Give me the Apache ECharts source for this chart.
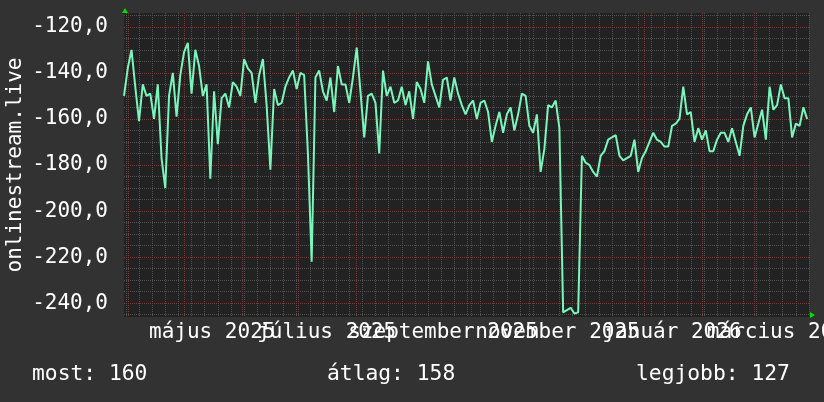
<!DOCTYPE html>
<html>
<head>
<meta charset="utf-8">
<script src="https://cdn.jsdelivr.net/npm/echarts@6/dist/echarts.min.js"></script>
<style>
html,body{margin:0;padding:0;background:#323232;}
#chart{width:824px;height:402px;}
</style>
</head>
<body>
<div id="chart"></div>
<script>
// ---- data ----
const startDate = '2025-03-30';
const endDate = '2026-03-30';
const stepDays = 2;
const signal = [
 -150,-138,-130,-146,-161,-145,-150,-149,-160,-145,
 -177,-190,-150,-140,-159,-141,-131,-127,-149,-130,
 -137,-150,-145,-186,-148,-171,-151,-149,-155,-144,
 -146,-150,-134,-138,-140,-153,-141,-134,-154,-182,
 -147,-154,-153,-146,-142,-139,-147,-140,-141,-175,
 -222,-142,-139,-148,-152,-142,-157,-137,-145,-145,
 -153,-142,-129,-148,-168,-150,-149,-153,-175,-139,
 -150,-146,-153,-152,-146,-154,-148,-160,-144,-147,
 -153,-135,-145,-150,-155,-143,-142,-152,-142,-149,
 -154,-158,-154,-152,-160,-153,-152,-157,-170,-163,
 -157,-166,-158,-155,-165,-158,-149,-150,-163,-166,
 -158,-183,-173,-154,-155,-152,-164,-244,-243,-242,
 -244.5,-244,-176,-179,-180,-183,-185,-176,-174,-169,
 -168,-167,-176,-178,-177,-176,-169,-183,-177,-174,
 -170,-166,-169,-170,-172,-172,-163,-162,-160,-146,
 -158,-157,-170,-164,-169,-165,-174,-174,-169,-166,
 -166,-170,-164,-170,-176,-163,-158,-155,-168,-162,
 -156,-169,-146,-156,-154,-145,-151,-151,-168,-162,
 -163,-155,-160
];
const yTicks = [-240, -220, -200, -180, -160, -140, -120];
const yMin = -246, yMax = -114;
const monthNames = ['január','február','március','április','május','június','július','augusztus','szeptember','október','november','december'];
const xLabelMonths = ['2025-05','2025-07','2025-09','2025-11','2026-01','2026-03'];
const seriesName = 'onlinestream.live';
const summaryLabels = ['most: 160', 'átlag: 158', 'legjobb: 127'];

// ---- build ----
const DAY = 86400000;
const t0 = Date.parse(startDate + 'T00:00:00Z');
const t1 = Date.parse(endDate + 'T00:00:00Z');
const lineData = signal.map((v, i) => [t0 + i * stepDays * DAY, v]);

const labelTimes = xLabelMonths.map(m => Date.parse(m + '-01T00:00:00Z') + 15 * DAY);
const labelsA = labelTimes.filter((t, i) => i % 2 === 0);
const labelsB = labelTimes.filter((t, i) => i % 2 === 1);

const monthLines = [];
{
  const d = new Date(t0);
  let y = d.getUTCFullYear(), m = d.getUTCMonth() + 1;
  while (true) {
    const t = Date.UTC(y, m, 1);
    if (t > t1) break;
    monthLines.push(t);
    m++; if (m > 11) { m = 0; y++; }
  }
}
const weekLines = [];
{
  let t = t0;
  while (new Date(t).getUTCDay() !== 1) t += DAY;
  for (; t <= t1; t += 7 * DAY) if (monthLines.indexOf(t) < 0) weekLines.push(t);
}
const hMinor = [], hMajor = [];
for (let v = -245; v <= -115; v += 5) {
  if (v % 20 === 0) hMajor.push(v); else hMinor.push(v);
}

const minorStyle = { color: '#505050', width: 1, type: [1, 1] };
const majorStyle = { color: '#7a3838', width: 1, type: [1, 1] };
const font = '"DejaVu Sans Mono", monospace';

const monthFmt = v => { const d = new Date(v); return monthNames[d.getUTCMonth()] + ' ' + d.getUTCFullYear(); };
const xLabelStyle = { color: '#ffffff', fontFamily: font, fontSize: 21, margin: 5, showMinLabel: true, showMaxLabel: true, hideOverlap: false, formatter: monthFmt };

const chart = echarts.init(document.getElementById('chart'), null, { renderer: 'canvas' });
chart.setOption({
  backgroundColor: '#323232',
  animation: false,
  grid: { left: 124, right: 15, top: 13, bottom: 85, show: true, backgroundColor: '#222222', borderWidth: 0, containLabel: false, outerBoundsMode: 'none' },
  xAxis: [
    {
      type: 'value', min: t0, max: t1, gridIndex: 0, position: 'bottom', offset: 0,
      axisLine: { show: false },
      axisTick: { show: false, customValues: monthLines },
      splitLine: { show: true, lineStyle: majorStyle },
      axisLabel: Object.assign({ customValues: labelsA }, xLabelStyle),
      z: 2
    },
    {
      type: 'value', min: t0, max: t1, gridIndex: 0, position: 'bottom', offset: 0,
      axisLine: { show: false },
      axisTick: { show: false },
      splitLine: { show: false },
      axisLabel: Object.assign({ customValues: labelsB }, xLabelStyle),
      z: 2
    },
    {
      type: 'value', min: t0, max: t1, gridIndex: 0, position: 'bottom', offset: 0,
      axisLine: { show: false },
      axisTick: { show: false, customValues: weekLines },
      splitLine: { show: true, lineStyle: minorStyle },
      axisLabel: { show: false },
      z: 1
    }
  ],
  yAxis: [
    {
      type: 'value', min: yMin, max: yMax, gridIndex: 0, position: 'left', offset: 0,
      name: seriesName, nameLocation: 'middle', nameGap: 98, nameMoveOverlap: false,
      nameTextStyle: { color: '#ffffff', fontFamily: font, fontSize: 21 },
      axisLine: { show: false },
      axisTick: { show: false, customValues: hMajor },
      splitLine: { show: true, lineStyle: majorStyle },
      axisLabel: {
        customValues: yTicks, showMinLabel: true, showMaxLabel: true,
        color: '#ffffff', fontFamily: font, fontSize: 21, margin: 16,
        formatter: v => v.toFixed(1).replace('.', ',')
      },
      z: 2
    },
    {
      type: 'value', min: yMin, max: yMax, gridIndex: 0, position: 'left', offset: 0,
      axisLine: { show: false },
      axisTick: { show: false, customValues: hMinor },
      splitLine: { show: true, lineStyle: minorStyle },
      axisLabel: { show: false },
      z: 1
    }
  ],
  series: [
    {
      type: 'line', name: seriesName, data: lineData, xAxisIndex: 0, yAxisIndex: 0, z: 3,
      showSymbol: false, symbol: 'none',
      lineStyle: { color: '#7af5bc', width: 2 }
    }
  ]
});

const tl = chart.convertToPixel({ xAxisIndex: 0, yAxisIndex: 0 }, [t0, yMax]);
const br = chart.convertToPixel({ xAxisIndex: 0, yAxisIndex: 0 }, [t1, yMin]);
const ax = tl[0] + 1, ay = br[1] - 2;
const tfont = '21.3px ' + font;
chart.setOption({
  graphic: [
    { type: 'polygon', shape: { points: [[ax - 3, tl[1]], [ax + 3, tl[1]], [ax, tl[1] - 5]] }, style: { fill: '#00e000' }, z: 10 },
    { type: 'polygon', shape: { points: [[br[0] + 1, ay - 3], [br[0] + 1, ay + 3], [br[0] + 6, ay]] }, style: { fill: '#00e000' }, z: 10 },
    { type: 'text', x: 32, y: 374, style: { text: summaryLabels[0], fill: '#ffffff', font: tfont, verticalAlign: 'middle' } },
    { type: 'text', x: 327, y: 374, style: { text: summaryLabels[1], fill: '#ffffff', font: tfont, verticalAlign: 'middle' } },
    { type: 'text', x: 636, y: 374, style: { text: summaryLabels[2], fill: '#ffffff', font: tfont, verticalAlign: 'middle' } }
  ]
});
</script>
</body>
</html>
